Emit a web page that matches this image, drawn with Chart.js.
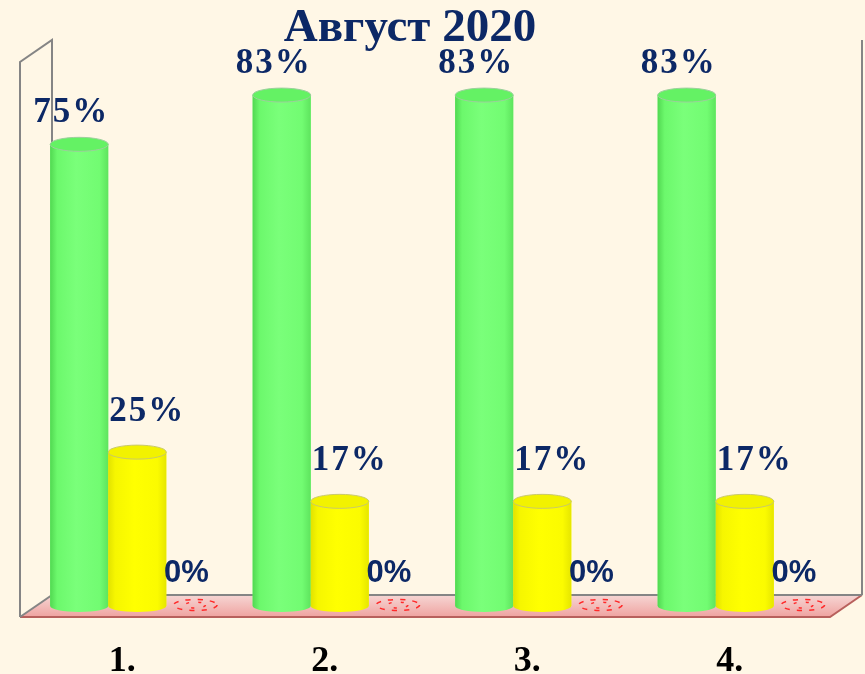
<!DOCTYPE html>
<html>
<head>
<meta charset="utf-8">
<script src="https://cdn.jsdelivr.net/npm/chart.js@4/dist/chart.umd.min.js"></script>
<style>
html,body{margin:0;padding:0;background:#fff7e6;}
#wrap{width:865px;height:674px;}
</style>
</head>
<body>
<div id="wrap"><canvas id="c" width="865" height="674"></canvas></div>
<script>
const chartTitle = 'Август 2020';
const categories = ['1.', '2.', '3.', '4.'];
const greenValues = [75, 83, 83, 83];
const yellowValues = [25, 17, 17, 17];
const redValues = [0, 0, 0, 0];

const NAVY = '#0c2866';
const DEPTH_X = 16, DEPTH_Y = 11;

function cylinderGradient(ctx, x0, x1, stops) {
  const g = ctx.createLinearGradient(x0, 0, x1, 0);
  stops.forEach(s => g.addColorStop(s[0], s[1]));
  return g;
}
const styles = [
  { side: [[0,'#52d852'],[0.12,'#6cf86c'],[0.45,'#7aff7a'],[0.85,'#72fc72'],[1,'#5ee45e']], top: '#64f264', topEdge: '#9ccf9c', labelFont: 'bold 35px "Liberation Serif", serif', spacing: '2px', dx: -8, dy: -15 },
  { side: [[0,'#e2e200'],[0.12,'#f6f600'],[0.45,'#ffff00'],[0.85,'#fbfb00'],[1,'#e6e600']], top: '#f2f200', topEdge: '#c9c96a', labelFont: 'bold 35px "Liberation Serif", serif', spacing: '2px', dx: 10, dy: -24 },
  { side: null, labelFont: 'bold 31px "Liberation Sans", sans-serif', spacing: '0px', dx: -9, dy: -24 }
];

const framePlugin = {
  id: 'frame3d',
  beforeDraw(chart) {
    const ctx = chart.ctx, a = chart.chartArea;
    ctx.save();
    ctx.fillStyle = '#fff7e6';
    ctx.fillRect(0, 0, chart.width, chart.height);
    const bl = a.left + DEPTH_X, br = a.right + DEPTH_X;
    const fl = a.left - DEPTH_X, fr = a.right - DEPTH_X;
    const by = a.bottom - DEPTH_Y, fy = a.bottom + DEPTH_Y;
    const topBack = a.top - 12;
    const fg = ctx.createLinearGradient(0, by, 0, fy);
    fg.addColorStop(0, '#f6d6d4');
    fg.addColorStop(1, '#efa3a0');
    ctx.fillStyle = fg;
    ctx.beginPath();
    ctx.moveTo(bl, by); ctx.lineTo(br, by); ctx.lineTo(fr, fy); ctx.lineTo(fl, fy); ctx.closePath();
    ctx.fill();
    ctx.strokeStyle = '#b8605c';
    ctx.lineWidth = 2;
    ctx.beginPath(); ctx.moveTo(fl, fy); ctx.lineTo(fr, fy); ctx.lineTo(br, by); ctx.stroke();
    ctx.strokeStyle = '#858585';
    ctx.lineWidth = 2;
    ctx.beginPath();
    ctx.moveTo(fl, fy); ctx.lineTo(fl, topBack + 2 * DEPTH_Y); ctx.lineTo(bl, topBack);
    ctx.lineTo(bl, by); ctx.lineTo(fl, fy);
    ctx.moveTo(bl, by); ctx.lineTo(br, by);
    ctx.moveTo(br, topBack); ctx.lineTo(br, by);
    ctx.stroke();
    ctx.restore();
  },
  afterDatasetsDraw(chart) {
    const ctx = chart.ctx;
    ctx.save();
    chart.data.datasets.forEach((ds, di) => {
      const st = styles[di];
      const meta = chart.getDatasetMeta(di);
      meta.data.forEach((el, i) => {
        const w = el.width, x0 = el.x - w / 2, x1 = el.x + w / 2;
        const rx = w / 2, ry = 7;
        if (!st.side) {
          ctx.strokeStyle = '#ff2a2a';
          ctx.lineWidth = 1.5;
          ctx.setLineDash([5, 7]);
          ctx.beginPath();
          ctx.ellipse(el.x, el.base - 1, rx * 0.75, 5.5, 0, 0, Math.PI * 2);
          ctx.stroke();
          ctx.setLineDash([3, 9]);
          ctx.beginPath();
          ctx.ellipse(el.x, el.base - 1, rx * 0.35, 3, 0, 0, Math.PI * 2);
          ctx.stroke();
          ctx.setLineDash([]);
          return;
        }
        const g = cylinderGradient(ctx, x0, x1, st.side);
        ctx.fillStyle = g;
        ctx.beginPath();
        ctx.moveTo(x0, el.y);
        ctx.lineTo(x0, el.base);
        ctx.ellipse(el.x, el.base, rx, ry - 1, 0, Math.PI, 0, true);
        ctx.lineTo(x1, el.y);
        ctx.closePath();
        ctx.fill();
        ctx.fillStyle = st.top;
        ctx.strokeStyle = st.topEdge;
        ctx.lineWidth = 1;
        ctx.beginPath();
        ctx.ellipse(el.x, el.y, rx, ry, 0, 0, Math.PI * 2);
        ctx.fill();
        ctx.stroke();
      });
    });
    chart.data.datasets.forEach((ds, di) => {
      const st = styles[di];
      const meta = chart.getDatasetMeta(di);
      ctx.font = st.labelFont;
      ctx.letterSpacing = st.spacing;
      ctx.fillStyle = NAVY;
      ctx.textAlign = 'center';
      ctx.textBaseline = 'alphabetic';
      meta.data.forEach((el, i) => {
        const top = el.y - (st.side ? 7 : 0);
        ctx.fillText(ds.data[i] + '%', el.x + st.dx, top + st.dy);
      });
    });
    ctx.letterSpacing = '0px';
    const xs = chart.scales.x;
    ctx.font = 'bold 36px "Liberation Serif", serif';
    ctx.fillStyle = '#000000';
    categories.forEach((c, i) => {
      ctx.fillText(c, xs.getPixelForValue(i) - 15, 671);
    });
    ctx.font = 'bold 47px "Liberation Serif", serif';
    ctx.fillStyle = NAVY;
    ctx.fillText(chartTitle, 410, 41);
    ctx.restore();
  }
};

new Chart(document.getElementById('c'), {
  type: 'bar',
  data: {
    labels: categories,
    datasets: [
      { data: greenValues, backgroundColor: '#74ff74', borderWidth: 0 },
      { data: yellowValues, backgroundColor: '#ffff00', borderWidth: 0 },
      { data: redValues, backgroundColor: '#ff2a2a', borderWidth: 0 }
    ]
  },
  options: {
    responsive: false,
    animation: false,
    devicePixelRatio: 1,
    layout: { padding: { left: 36, right: 19, top: 52, bottom: 68 } },
    datasets: { bar: { barPercentage: 1, categoryPercentage: 0.86 } },
    plugins: { legend: { display: false }, tooltip: { enabled: false }, title: { display: false } },
    scales: {
      x: { display: false },
      y: { display: false, min: 0, max: 90 }
    }
  },
  plugins: [framePlugin]
});
</script>
</body>
</html>
